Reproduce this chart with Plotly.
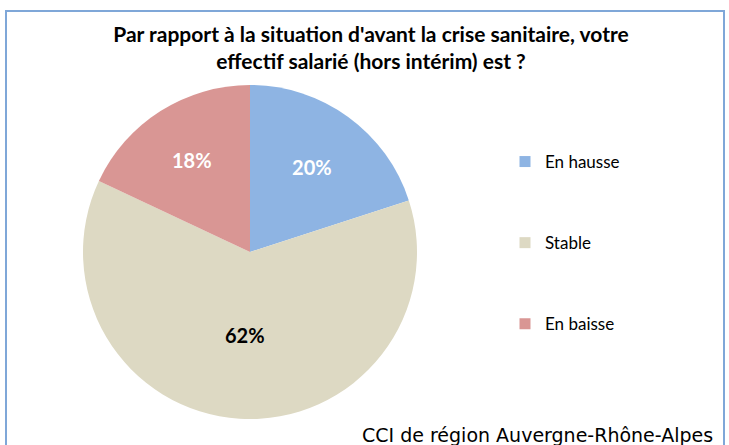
import plotly.graph_objects as go

labels = ["En hausse", "Stable", "En baisse"]
values = [20, 62, 18]
colors = ["#8EB4E3", "#DDD9C3", "#D99694"]
text_colors = ["white", "black", "white"]

title = "Par rapport à la situation d'avant la crise sanitaire, votre<br>effectif salarié (hors intérim) est ?"
source = "CCI de région Auvergne-Rhône-Alpes"

W, H = 729, 445

fig = go.Figure()

fig.add_trace(
    go.Pie(
        labels=labels,
        values=values,
        sort=False,
        direction="clockwise",
        rotation=0,
        marker=dict(colors=colors, line=dict(width=0)),
        textinfo="percent",
        texttemplate="%{percent:.0%}",
        textposition="inside",
        insidetextorientation="horizontal",
        textfont=dict(family="Lato", size=20, color=text_colors, weight="bold"),
        domain=dict(x=[83 / W, 417 / W], y=[1 - 419 / H, 1 - 85 / H]),
        showlegend=False,
        hoverinfo="label+percent",
    )
)

# legend entries (one per slice, spaced out like the original)
for lab, col in zip(labels, colors):
    fig.add_trace(
        go.Scatter(
            x=[None],
            y=[None],
            mode="markers",
            name=lab,
            legendgroup=lab,
            marker=dict(symbol="square", size=11, color=col),
        )
    )

fig.update_layout(
    width=W,
    height=H,
    margin=dict(l=0, r=0, t=0, b=0),
    paper_bgcolor="white",
    plot_bgcolor="white",
    xaxis=dict(visible=False),
    yaxis=dict(visible=False),
    title=dict(
        text=title,
        x=371 / W,
        xanchor="center",
        y=1 - 42 / H,
        yanchor="top",
        font=dict(family="Lato", size=21, color="black", weight="bold"),
    ),
    legend=dict(
        x=505 / W,
        xanchor="left",
        y=1 - 144 / H,
        yanchor="top",
        font=dict(family="Lato", size=17, color="black"),
        tracegroupgap=56,
        itemwidth=30,
        bgcolor="rgba(0,0,0,0)",
    ),
    annotations=[
        dict(
            text=source,
            xref="paper",
            yref="paper",
            x=715 / W,
            y=1 - 435 / H,
            xanchor="right",
            yanchor="middle",
            showarrow=False,
            font=dict(family="DejaVu Sans", size=19, color="black"),
        )
    ],
    shapes=[
        dict(
            type="rect",
            xref="paper",
            yref="paper",
            x0=6 / W,
            x1=724 / W,
            y0=-0.05,
            y1=1 - 11 / H,
            line=dict(color="#7FA7D8", width=2),
            fillcolor="rgba(0,0,0,0)",
        )
    ],
)

# drop the default page margin so the figure sits at the window's corner
fig.write_html(
    "out.html",
    config={"displayModeBar": False},
    post_script="document.body.style.margin='0';document.body.style.overflow='hidden';",
)
